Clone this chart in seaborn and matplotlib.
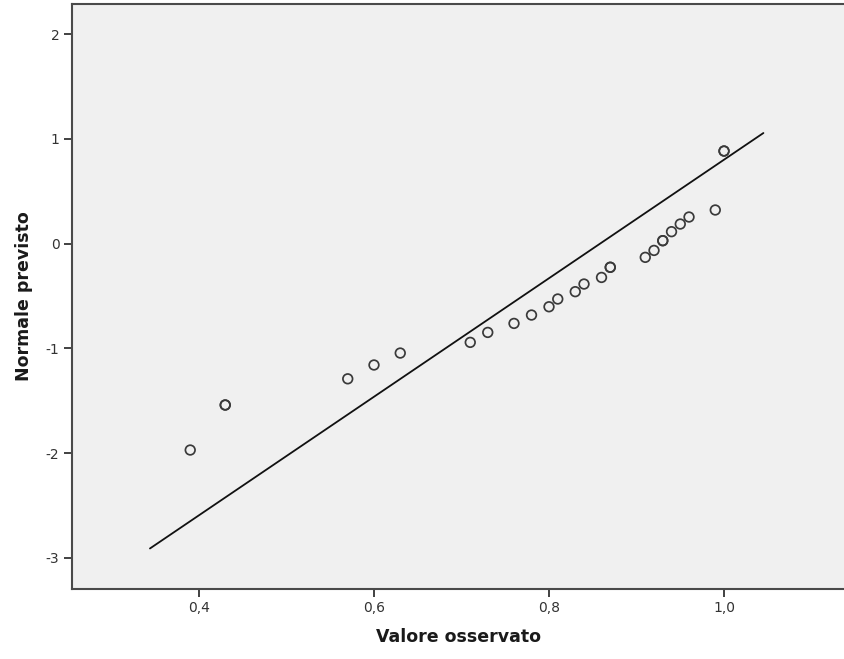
import matplotlib
matplotlib.use("Agg")
import matplotlib.pyplot as plt
import matplotlib.ticker as mticker
import seaborn as sns
import pandas as pd

# Observed values (x) and expected normal scores (y); repeated values are tied observations
observed = [0.39, 0.43, 0.43, 0.57, 0.60, 0.63, 0.71, 0.73, 0.76, 0.78, 0.80, 0.81,
            0.83, 0.84, 0.86, 0.87, 0.87, 0.91, 0.92, 0.93, 0.93, 0.94, 0.95, 0.96,
            0.99, 1.00, 1.00]
expected = [-1.97, -1.54, -1.54, -1.29, -1.158, -1.044, -0.942, -0.847, -0.761, -0.681,
            -0.602, -0.528, -0.458, -0.385, -0.322, -0.225, -0.225, -0.130, -0.064,
            0.029, 0.029, 0.115, 0.188, 0.255, 0.322, 0.885, 0.885]

# Reference line endpoints
ref_x = [0.344, 1.045]
ref_y = [-2.91, 1.057]

xticks = [0.4, 0.6, 0.8, 1.0]
yticks = [-3, -2, -1, 0, 1, 2]

df = pd.DataFrame({"obs": observed, "exp": expected})
ref = pd.DataFrame({"x": ref_x, "y": ref_y})

sns.set_theme(style="white")
plt.rcParams["font.family"] = ["DejaVu Sans"]

fig = plt.figure(figsize=(8.44, 6.59), dpi=100)
ax = fig.add_axes([72 / 844, 1 - 589 / 659, 1 - 72 / 844, (589 - 4) / 659])
ax.set_facecolor("#f0f0f0")

sns.lineplot(data=ref, x="x", y="y", ax=ax, color="#111111", linewidth=1.3,
             sort=False, estimator=None)
sns.scatterplot(data=df, x="obs", y="exp", ax=ax, marker="o", s=48,
                facecolor="none", edgecolor="#3a3a3a", linewidth=1.25, zorder=3)

ax.set_xlim(0.2549, 1.1371)
ax.set_ylim(-3.297, 2.289)
ax.set_xticks(xticks)
ax.set_yticks(yticks)
ax.xaxis.set_major_formatter(mticker.FuncFormatter(lambda v, p: f"{v:.1f}".replace(".", ",")))
ax.yaxis.set_major_formatter(mticker.FuncFormatter(lambda v, p: f"{int(round(v))}".replace("\u2212", "-")))

for side in ["left", "bottom", "top"]:
    ax.spines[side].set_visible(True)
    ax.spines[side].set_color("#4a4a4a")
    ax.spines[side].set_linewidth(1.5)
ax.spines["right"].set_visible(False)

ax.tick_params(axis="both", which="major", direction="out", length=6, width=1.3,
               color="#333333", labelcolor="#333333", labelsize=10, pad=3,
               left=True, bottom=True)

ax.set_xlabel("Valore osservato", fontsize=12.5, fontweight="bold", color="#1a1a1a", labelpad=9)
ax.set_ylabel("Normale previsto", fontsize=12.5, fontweight="bold", color="#1a1a1a", labelpad=9)

fig.savefig("out.png", dpi=100)
